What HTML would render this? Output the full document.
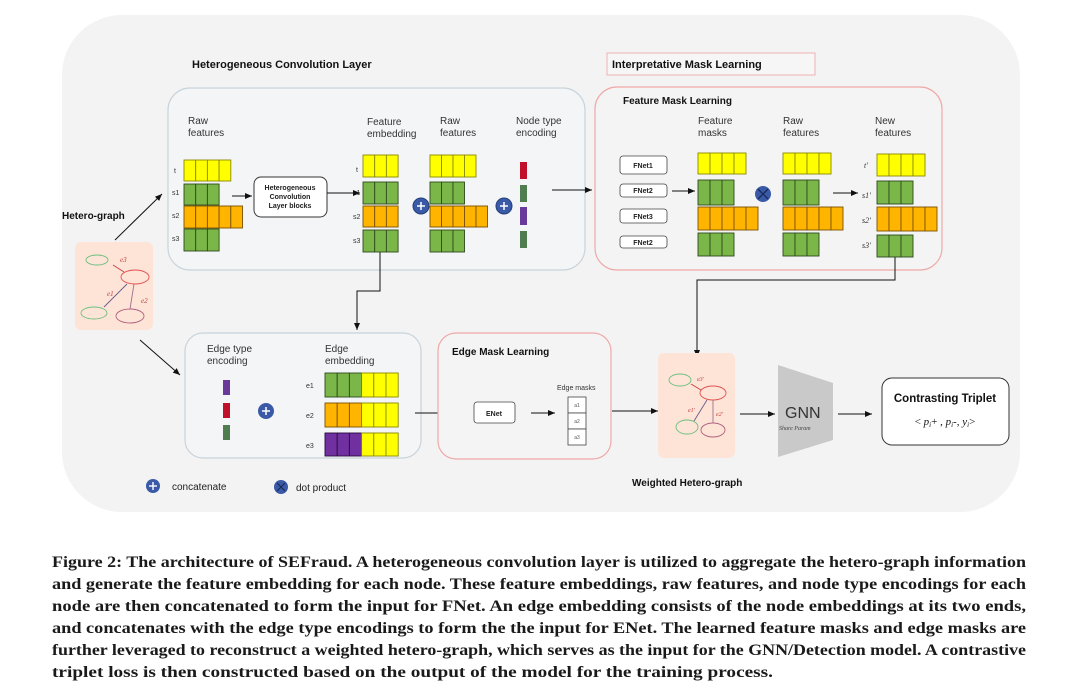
<!DOCTYPE html>
<html><head><meta charset="utf-8"><style>
html,body{margin:0;padding:0;background:#fff;}
svg{display:block;font-family:"Liberation Sans",sans-serif;}
</style></head><body>
<svg id="s" width="1080" height="697" viewBox="0 0 1080 697" xmlns="http://www.w3.org/2000/svg">
<defs>
<marker id="ar" markerWidth="8" markerHeight="8" refX="7" refY="4" orient="auto" markerUnits="userSpaceOnUse"><path d="M0,1 L7,4 L0,7 z" fill="#111"/></marker>
</defs>
<rect x="62" y="15" width="958" height="497" rx="60" fill="#f3f3f3"/>

<text x="192" y="68" font-size="11" font-weight="bold" fill="#111">Heterogeneous Convolution Layer</text>
<rect x="168" y="88" width="417" height="182" rx="22" fill="#f4f5f6" stroke="#c8d4dc" stroke-width="1.2"/>
<g font-size="10" fill="#333">
<text x="188" y="124">Raw</text><text x="188" y="136">features</text>
<text x="367" y="125">Feature</text><text x="367" y="137">embedding</text>
<text x="440" y="124">Raw</text><text x="440" y="136">features</text>
<text x="516" y="124">Node type</text><text x="516" y="136">encoding</text>
</g>
<g font-size="7" fill="#333">
<text x="174" y="173">t</text><text x="172" y="195">s1</text><text x="172" y="218">s2</text><text x="172" y="241">s3</text>
<text x="356" y="172">t</text><text x="353" y="195">s1</text><text x="353" y="219">s2</text><text x="353" y="243">s3</text>
</g>
<rect x="254" y="177" width="73" height="40" rx="7" fill="#fff" stroke="#333" stroke-width="1"/>
<g font-size="7" font-weight="bold" text-anchor="middle" fill="#222">
<text x="290" y="190">Heterogeneous</text><text x="290" y="199">Convolution</text><text x="290" y="208">Layer blocks</text></g>
<line x1="232" y1="196" x2="252" y2="196" stroke="#111" marker-end="url(#ar)"/>
<line x1="327" y1="193" x2="360" y2="193" stroke="#111" marker-end="url(#ar)"/>
<g fill="#3a5aa8" stroke="#24407a"><circle cx="421" cy="206" r="8"/><circle cx="504" cy="206" r="8"/></g>
<g stroke="#fff" stroke-width="1.5"><line x1="417" y1="206" x2="425" y2="206"/><line x1="421" y1="202" x2="421" y2="210"/><line x1="500" y1="206" x2="508" y2="206"/><line x1="504" y1="202" x2="504" y2="210"/></g>
<rect x="520" y="162" width="7" height="17" fill="#c0102a"/>
<rect x="520" y="185" width="7" height="17" fill="#4f7d4f"/>
<rect x="520" y="207" width="7" height="18" fill="#6a3a9a"/>
<rect x="520" y="231" width="7" height="17" fill="#4f7d4f"/>
<line x1="552" y1="190" x2="592" y2="190" stroke="#111" marker-end="url(#ar)"/>
<polyline points="380,252 380,291 357,291 357,330" fill="none" stroke="#111" marker-end="url(#ar)"/>

<text x="62" y="219" font-size="10" font-weight="bold" fill="#111">Hetero-graph</text>
<line x1="115" y1="240" x2="162" y2="194" stroke="#111" marker-end="url(#ar)"/>
<line x1="140" y1="340" x2="180" y2="375" stroke="#111" marker-end="url(#ar)"/>
<rect x="75" y="242" width="78" height="88" rx="6" fill="#fde4d6"/>
<g fill="none" stroke-width="0.9">
<ellipse cx="97" cy="260" rx="11" ry="5" stroke="#6cbf80"/>
<ellipse cx="135" cy="277" rx="14" ry="7" stroke="#e05050"/>
<ellipse cx="94" cy="313" rx="13" ry="6" stroke="#6cbf80"/>
<ellipse cx="130" cy="316" rx="14" ry="7" stroke="#b06080"/>
<line x1="113" y1="265" x2="124" y2="272" stroke="#c04040"/>
<line x1="104" y1="307" x2="127" y2="284" stroke="#6a5a90"/>
<line x1="134" y1="284" x2="130" y2="309" stroke="#a07090"/>
</g>
<g font-size="7" font-style="italic" font-family="Liberation Serif" fill="#c04040">
<text x="120" y="262">e3</text><text x="107" y="296">e1</text><text x="141" y="303">e2</text></g>

<rect x="607" y="53" width="208" height="22" fill="#f6f6f6" stroke="#f0b0b0"/>
<text x="612" y="68" font-size="11" font-weight="bold" fill="#111">Interpretative Mask Learning</text>
<rect x="595" y="87" width="347" height="183" rx="22" fill="#f4f4f4" stroke="#f0a8a8" stroke-width="1.2"/>
<text x="623" y="104" font-size="10" font-weight="bold" fill="#111">Feature  Mask Learning</text>
<g font-size="10" fill="#333">
<text x="698" y="124">Feature</text><text x="698" y="136">masks</text>
<text x="783" y="124">Raw</text><text x="783" y="136">features</text>
<text x="875" y="124">New</text><text x="875" y="136">features</text></g>
<g fill="#fff" stroke="#444" stroke-width="0.8">
<rect x="620" y="156" width="47" height="18" rx="3"/>
<rect x="620" y="184" width="47" height="13" rx="3"/>
<rect x="620" y="209" width="47" height="14" rx="3"/>
<rect x="620" y="236" width="47" height="12" rx="3"/></g>
<g font-size="7" font-weight="bold" text-anchor="middle" fill="#222">
<text x="643" y="168">FNet1</text><text x="643" y="193">FNet2</text><text x="643" y="219">FNet3</text><text x="643" y="245">FNet2</text></g>
<line x1="672" y1="191" x2="695" y2="191" stroke="#111" marker-end="url(#ar)"/>
<circle cx="763" cy="194" r="8" fill="#3a5aa8"/>
<g stroke="#1a2a5a" stroke-width="1.3"><line x1="758" y1="189" x2="768" y2="199"/><line x1="768" y1="189" x2="758" y2="199"/></g>
<line x1="833" y1="193" x2="858" y2="193" stroke="#111" marker-end="url(#ar)"/>
<g font-size="8" font-style="italic" font-family="Liberation Serif" fill="#333">
<text x="864" y="168">t'</text><text x="862" y="198">s1'</text><text x="862" y="223">s2'</text><text x="862" y="248">s3'</text></g>
<polyline points="895,257 895,280 697,280 697,357" fill="none" stroke="#111" marker-end="url(#ar)"/>

<rect x="185" y="333" width="236" height="125" rx="18" fill="#f4f5f6" stroke="#c8d4dc" stroke-width="1.2"/>
<g font-size="10" fill="#333">
<text x="207" y="352">Edge type</text><text x="207" y="364">encoding</text>
<text x="325" y="352">Edge</text><text x="325" y="364">embedding</text></g>
<rect x="223" y="380" width="7" height="15" fill="#6a3a9a"/>
<rect x="223" y="403" width="7" height="15" fill="#c0102a"/>
<rect x="223" y="425" width="7" height="15" fill="#4f7d4f"/>
<circle cx="266" cy="411" r="8" fill="#3a5aa8"/>
<g stroke="#fff" stroke-width="1.5"><line x1="262" y1="411" x2="270" y2="411"/><line x1="266" y1="407" x2="266" y2="415"/></g>
<g font-size="7" fill="#333"><text x="306" y="388">e1</text><text x="306" y="418">e2</text><text x="306" y="448">e3</text></g>
<line x1="415" y1="413" x2="458" y2="413" stroke="#111" marker-end="url(#ar)"/>

<rect x="438" y="333" width="173" height="126" rx="18" fill="#f4f4f4" stroke="#f0a8a8" stroke-width="1.2"/>
<text x="452" y="355" font-size="10" font-weight="bold" fill="#111">Edge  Mask Learning</text>
<rect x="474" y="402" width="41" height="21" rx="3" fill="#fff" stroke="#444" stroke-width="0.8"/>
<text x="494" y="416" font-size="7" font-weight="bold" text-anchor="middle" fill="#222">ENet</text>
<line x1="531" y1="413" x2="555" y2="413" stroke="#111" marker-end="url(#ar)"/>
<text x="557" y="390" font-size="7" fill="#333">Edge masks</text>
<g fill="#fff" stroke="#444" stroke-width="0.8"><rect x="568" y="397" width="18" height="16"/><rect x="568" y="413" width="18" height="16"/><rect x="568" y="429" width="18" height="16"/></g>
<g font-size="5" fill="#555" text-anchor="middle"><text x="577" y="407">a1</text><text x="577" y="423">a2</text><text x="577" y="439">a3</text></g>
<line x1="612" y1="411" x2="658" y2="411" stroke="#111" marker-end="url(#ar)"/>

<rect x="658" y="353" width="77" height="105" rx="6" fill="#fde4d6"/>
<g fill="none" stroke-width="0.9">
<ellipse cx="680" cy="380" rx="11" ry="6" stroke="#6cbf80"/>
<ellipse cx="713" cy="393" rx="13" ry="7" stroke="#e05050"/>
<ellipse cx="687" cy="427" rx="11" ry="7" stroke="#6cbf80"/>
<ellipse cx="713" cy="430" rx="12" ry="7" stroke="#b06080"/>
<line x1="691" y1="384" x2="701" y2="390" stroke="#c04040"/>
<line x1="694" y1="421" x2="707" y2="400" stroke="#6a5a90"/>
<line x1="713" y1="400" x2="713" y2="423" stroke="#a07090"/></g>
<g font-size="6" font-style="italic" font-family="Liberation Serif" fill="#c04040">
<text x="697" y="381">e3'</text><text x="688" y="412">e1'</text><text x="716" y="416">e2'</text></g>
<line x1="740" y1="414" x2="775" y2="414" stroke="#111" marker-end="url(#ar)"/>
<polygon points="778,365 833,383 833,440 778,457" fill="#c9c9c9"/>
<text x="785" y="418" font-size="16" fill="#333">GNN</text>
<text x="779" y="430" font-size="6" font-style="italic" font-family="Liberation Serif" fill="#444">Share Param</text>
<line x1="838" y1="414" x2="872" y2="414" stroke="#111" marker-end="url(#ar)"/>
<rect x="882" y="378" width="127" height="67" rx="10" fill="#fff" stroke="#333" stroke-width="1"/>
<text x="945" y="402" font-size="11.5" font-weight="bold" text-anchor="middle" fill="#111">Contrasting Triplet</text>
<text x="945" y="425" font-size="11" font-family="Liberation Serif" text-anchor="middle" fill="#111">&lt; <tspan font-style="italic">p<tspan font-size="7" dy="2">i</tspan></tspan><tspan dy="-2">+ , </tspan><tspan font-style="italic">p<tspan font-size="7" dy="2">i</tspan></tspan><tspan dy="-2">-, </tspan><tspan font-style="italic">y<tspan font-size="7" dy="2">i</tspan></tspan><tspan dy="-2">&gt;</tspan></text>
<text x="632" y="486" font-size="10" font-weight="bold" fill="#111">Weighted  Hetero-graph</text>

<circle cx="153" cy="486" r="7" fill="#3a5aa8"/>
<g stroke="#fff" stroke-width="1.4"><line x1="149" y1="486" x2="157" y2="486"/><line x1="153" y1="482" x2="153" y2="490"/></g>
<text x="172" y="490" font-size="10" fill="#222">concatenate</text>
<circle cx="281" cy="487" r="7" fill="#3a5aa8"/>
<g stroke="#1a2a5a" stroke-width="1.2"><line x1="277" y1="483" x2="285" y2="491"/><line x1="285" y1="483" x2="277" y2="491"/></g>
<text x="296" y="491" font-size="10" fill="#222">dot product</text>

<g font-family="Liberation Serif" font-weight="bold" font-size="15.5" fill="#1a1a1a">
<text x="52" y="567" textLength="974" lengthAdjust="spacingAndGlyphs">Figure 2: The architecture of SEFraud. A heterogeneous convolution layer is utilized to aggregate the hetero-graph information</text>
<text x="52" y="589" textLength="974" lengthAdjust="spacingAndGlyphs">and generate the feature embedding for each node. These feature embeddings, raw features, and node type encodings for each</text>
<text x="52" y="611" textLength="974" lengthAdjust="spacingAndGlyphs">node are then concatenated to form the input for FNet. An edge embedding consists of the node embeddings at its two ends,</text>
<text x="52" y="633" textLength="974" lengthAdjust="spacingAndGlyphs">and concatenates with the edge type encodings to form the the input for ENet. The learned feature masks and edge masks are</text>
<text x="52" y="655" textLength="974" lengthAdjust="spacingAndGlyphs">further leveraged to reconstruct a weighted hetero-graph, which serves as the input for the GNN/Detection model. A contrastive</text>
<text x="52" y="677" textLength="721" lengthAdjust="spacingAndGlyphs">triplet loss is then constructed based on the output of the model for the training process.</text>
</g>
<g id="cells"></g>
</svg>
<script>
(function(){
var g=document.getElementById('cells'),NS='http://www.w3.org/2000/svg';
var C={y:['#ffff00','#8a8a00'],g:['#7ab648','#2e4a1e'],o:['#ffb400','#7a5000'],p:['#7030a0','#2a0a40']};
function row(x,y,h,w,seq){for(var i=0;i<seq.length;i++){var r=document.createElementNS(NS,'rect');r.setAttribute('x',x+i*w);r.setAttribute('y',y);r.setAttribute('width',w);r.setAttribute('height',h);r.setAttribute('fill',C[seq[i]][0]);r.setAttribute('stroke',C[seq[i]][1]);r.setAttribute('stroke-width','0.9');g.appendChild(r);}}
function blk(x,ys,h,w,n){var s=['y','g','o','g'];for(var k=0;k<4;k++){var q='';for(var j=0;j<n[k];j++)q+=s[k];row(x,ys[k],h[k],w,q);}}
blk(184,[160,184,206,229],[21,21,22,22],11.7,[4,3,5,3]);
blk(363,[155,182,206,230],[22,22,21,22],11.7,[3,3,3,3]);
blk(430,[155,182,206,230],[22,22,21,22],11.5,[4,3,5,3]);
blk(698,[153,180,207,233],[21,25,23,23],12,[4,3,5,3]);
blk(783,[153,180,207,233],[21,25,23,23],12,[4,3,5,3]);
blk(877,[154,181,207,235],[22,23,24,22],12,[4,3,5,3]);
row(325,373,24,12.2,'gggyyy');row(325,403,24,12.2,'oooyyy');row(325,433,23,12.2,'pppyyy');
})();
</script>
</body></html>
